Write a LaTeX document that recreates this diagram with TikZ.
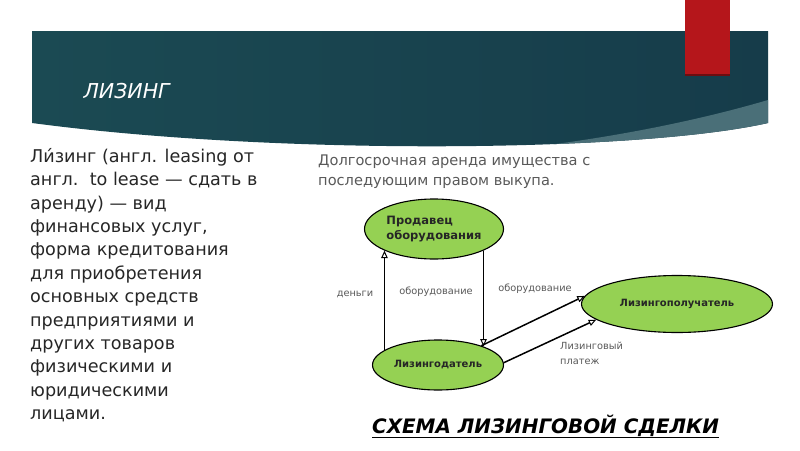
\documentclass[tikz,border=0pt]{standalone}
\usepackage{fontspec}
\setmainfont{DejaVu Sans}
\usetikzlibrary{arrows.meta,shapes.geometric}
\definecolor{bandDark}{HTML}{1B4A53}
\definecolor{bandLight}{HTML}{2F6B62}
\definecolor{bandEdge}{HTML}{163C4A}
\definecolor{bandSwoosh}{HTML}{4A6F78}
\definecolor{tabRed}{HTML}{B5161B}
\definecolor{leafGreen}{HTML}{95D153}
\definecolor{inkGrey}{HTML}{595959}
\definecolor{bodyInk}{HTML}{262626}

\begin{document}
\begin{tikzpicture}[x=1pt,y=-1pt,
  partner/.style={ellipse,draw=black,line width=1.1pt,fill=leafGreen,inner sep=1pt,
    text=black!85,font=\fontsize{10}{12}\selectfont\bfseries},
  flow/.style={line width=1.5pt,-{Triangle[open,length=7.5pt,width=6.5pt,line width=1pt]}},
  lbl/.style={font=\fontsize{9.8}{11}\selectfont,text=inkGrey}]
  \useasboundingbox (0,0) rectangle (800,450);
  % header band
  \shade[left color=bandDark,middle color=bandLight,right color=bandEdge]
    (32,31) -- (768,31) -- (768,123) .. controls (640,152) and (280,156) .. (32,123) -- cycle;
  \begin{scope}
    \clip (32,31) -- (768,31) -- (768,123) .. controls (640,152) and (280,156) .. (32,123) -- cycle;
    \fill[bandSwoosh] (540,146) .. controls (620,136) and (700,120) .. (768,100) -- (800,100) -- (800,200) -- (540,200) -- cycle;
  \end{scope}
  \fill[tabRed] (685,0) rectangle (730,75);
  \draw[tabRed!60!black,line width=1.5pt] (685,75) -- (730,75);
  \node[anchor=base west,text=white,font=\fontsize{20.5}{24}\selectfont\itshape] (title) at (80,98) {ЛИЗИНГ};

  % text
  \node[anchor=north west,align=left,inner sep=0pt,text=bodyInk,
    font=\fontsize{17.6}{23.4}\selectfont] (defn) at (30,148)
    {Ли́зинг (англ. leasing от\\англ.\ \ to lease — сдать в\\аренду) — вид\\финансовых услуг,\\форма кредитования\\для приобретения\\основных средств\\предприятиями и\\других товаров\\физическими и\\юридическими\\лицами.};
  \node[anchor=north west,align=left,inner sep=0pt,text=inkGrey,
    font=\fontsize{14.6}{19.5}\selectfont] (note) at (318,155)
    {Долгосрочная аренда имущества с\\последующим правом выкупа.};

  % scheme
  \node[partner,minimum width=139,minimum height=60,align=left,
    font=\fontsize{11.5}{15}\selectfont\bfseries] (prod) at (434,229) {Продавец\\оборудования};
  \node[partner,minimum width=131,minimum height=50] (dat) at (438,365) {Лизингодатель};
  \node[partner,minimum width=191,minimum height=57] (pol) at (677,304) {Лизингополучатель};

  \draw[flow] (prod.south west |- dat.165) -- (prod.south west);
  \draw[flow] (prod.south east) -- (prod.south east |- dat.22);
  \draw[flow] (dat.24) -- (pol.175);
  \draw[flow] (dat.2) -- (pol.191);

  \node[lbl] (money) at (355,294) {деньги};
  \node[lbl] (equipA) at (436,292) {оборудование};
  \node[lbl] (equipB) at (535,289) {оборудование};
  \node[lbl,anchor=north west,align=left,inner sep=0pt,font=\fontsize{9.8}{15}\selectfont] (pay) at (560,342) {Лизинговый\\платеж};

  \node[anchor=base west,inner sep=0pt,font=\fontsize{19.9}{24}\selectfont\bfseries\itshape] (caption) at (372,433)
    {\underline{СХЕМА ЛИЗИНГОВОЙ СДЕЛКИ}};
\end{tikzpicture}
\end{document}
